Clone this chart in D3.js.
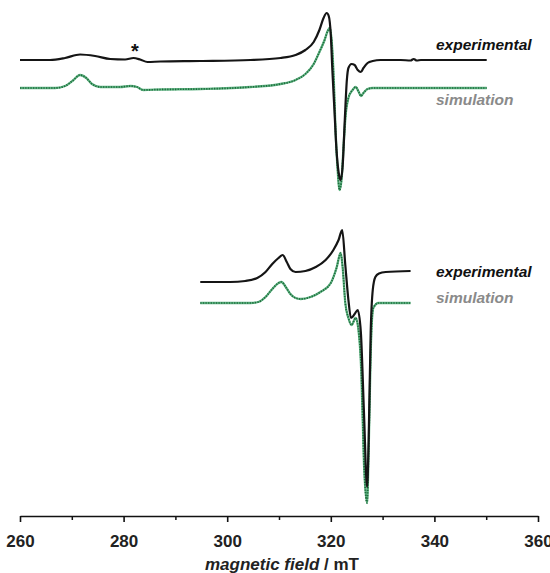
<!DOCTYPE html>
<html>
<head>
<meta charset="utf-8">
<script src="https://cdn.jsdelivr.net/npm/d3@7"></script>
<style>
  html, body { margin: 0; padding: 0; background: #fff; }
  svg { display: block; font-family: "Liberation Sans", Arial, sans-serif; }
</style>
</head>
<body>
<svg id="chart"></svg>
<script>
// field axis ticks (mT)
const majorTicks = [260, 280, 300, 320, 340, 360]
const minorTicks = [270, 290, 310, 330, 350]

// upper spectrum, experimental
const upExpField = [260, 265.8, 268.7, 271.6, 274.5, 277.4, 280.3, 281.9, 283.2, 284.6, 287.1, 294.8, 304.5, 310.3, 313.2, 315.1, 316.7, 317.8, 318.6, 319.2, 319.6, 320.0, 320.3, 320.7, 321.1, 321.5, 321.9, 322.3, 322.7, 323.1, 323.4, 324.0, 324.6, 325.2, 325.8, 326.3, 327.1, 328.1, 329.6, 333.5, 335.4, 336.0, 336.6, 337.4, 350.1]
const upExpInt = [0, 0, 2, 5.5, 4, 1, 0.5, 2, 0.5, -2, -1.5, -1, 0, 2, 5, 10, 18, 30, 42, 47, 44, 25, -10, -50, -90, -112, -120, -105, -60, -20, -8, -4, -5, -10, -12, -8, -3, -1, 0, 0, -0.5, 1, -0.5, 0, 0]

// upper spectrum, simulation
const upSimField = [260, 266.8, 268.7, 270.1, 271.6, 272.8, 273.9, 275.5, 279.3, 281.3, 282.6, 283.8, 287.1, 294.8, 304.5, 310.3, 313.2, 315.1, 316.7, 317.8, 318.8, 319.4, 319.8, 320.2, 320.6, 320.9, 321.3, 321.7, 322.1, 322.5, 322.9, 323.4, 324.2, 324.8, 325.4, 325.8, 326.3, 327.1, 328.1, 350.1]
const upSimInt = [0, 0, 2, 7, 13, 10, 4, 1, 1, 2, 1, -2, -1.5, -1, 1, 4, 8, 14, 24, 36, 48, 57, 60, 45, 5, -40, -80, -102, -90, -55, -25, -10, -2, 1, -4, -8, -5, -1, 0, 0]

// lower spectrum, experimental
const loExpField = [294.8, 300.6, 303.5, 305.8, 307.4, 308.7, 309.9, 310.7, 311.5, 312.2, 313.2, 315.1, 317.1, 319.0, 320.5, 321.5, 322.2, 322.8, 323.4, 323.9, 324.6, 325.2, 325.8, 326.4, 327.0, 327.3, 327.7, 328.1, 328.6, 329.3, 330.6, 335.4]
const loExpInt = [0, 0, 1, 4, 10, 18, 24, 27, 20, 13, 10, 11, 15, 22, 32, 42, 52, 17, -18, -36, -32, -28, -50, -130, -205, -160, -50, -8, 5, 8.5, 10, 11]

// lower spectrum, simulation
const loSimField = [294.8, 304.5, 306.0, 307.4, 308.7, 309.9, 310.5, 311.3, 312.2, 313.2, 314.2, 316.1, 318.0, 320.0, 321.1, 321.9, 322.3, 322.8, 323.4, 324.0, 324.8, 325.3, 325.9, 326.4, 327.0, 327.3, 327.7, 328.2, 329.2, 335.4]
const loSimInt = [0, 0, 1, 6, 14, 20, 21, 16, 9, 5, 4, 6, 11, 20, 35, 50, 35, 0, -15, -22, -15, -25, -70, -160, -200, -150, -50, -5, 0, 0]

// vertical offsets of the stacked traces (a.u.)
const offsets = { upExp: 450, upSim: 422, loExp: 228, loSim: 207 }

const width = 550
const height = 573

const svg = d3.select("#chart")
  .attr("width", width)
  .attr("height", height)

const x = d3.scaleLinear().domain([260, 360]).range([20, 538])
const y = d3.scaleLinear().domain([0, 500]).range([510, 10])

const line = d3.line()
  .x(d => x(d.f))
  .y(d => y(d.v))
  .curve(d3.curveMonotoneX)

function trace(fields, ints, off) {
  return fields.map((f, i) => ({ f: f, v: ints[i] + off }))
}

function drawSim(data) {
  svg.append("path")
    .datum(data)
    .attr("fill", "none")
    .attr("stroke", "#5fb483")
    .attr("stroke-width", 2.3)
    .attr("d", line)
  svg.append("path")
    .datum(data)
    .attr("fill", "none")
    .attr("stroke", "#1f6b3c")
    .attr("stroke-width", 1.7)
    .attr("stroke-dasharray", "1.3,1.3")
    .attr("d", line)
}

function drawExp(data) {
  svg.append("path")
    .datum(data)
    .attr("fill", "none")
    .attr("stroke", "#151515")
    .attr("stroke-width", 2.2)
    .attr("stroke-linejoin", "round")
    .attr("d", line)
}

drawSim(trace(upSimField, upSimInt, offsets.upSim))
drawExp(trace(upExpField, upExpInt, offsets.upExp))
drawSim(trace(loSimField, loSimInt, offsets.loSim))
drawExp(trace(loExpField, loExpInt, offsets.loExp))

// labels
function label(txt, px, py, color) {
  svg.append("text")
    .attr("x", px)
    .attr("y", py)
    .attr("fill", color)
    .style("font-size", "15.5px")
    .style("font-weight", "bold")
    .style("font-style", "italic")
    .text(txt)
}
label("experimental", 436, 50, "#111")
label("simulation", 436, 105, "#8a8a8a")
label("experimental", 436, 277, "#111")
label("simulation", 436, 303, "#8a8a8a")

// asterisk marking the impurity line
svg.append("text")
  .attr("x", x(282.2))
  .attr("y", 58)
  .attr("text-anchor", "middle")
  .style("font-size", "20px")
  .style("font-weight", "bold")
  .attr("fill", "#111")
  .text("*")

// axis
const axisY = 516
const gMinor = svg.append("g")
  .attr("transform", `translate(0,${axisY})`)
  .call(d3.axisBottom(x).tickValues(minorTicks).tickSize(4).tickSizeOuter(0).tickFormat(""))
gMinor.select(".domain").remove()
gMinor.selectAll("line").attr("stroke", "#111").attr("stroke-width", 1.5)

const gMajor = svg.append("g")
  .attr("transform", `translate(0,${axisY})`)
  .call(d3.axisBottom(x).tickValues(majorTicks).tickSize(6).tickSizeOuter(0).tickPadding(13).tickFormat(d3.format("d")))
gMajor.select(".domain").attr("stroke", "#111").attr("stroke-width", 1.6)
gMajor.selectAll("line").attr("stroke", "#111").attr("stroke-width", 1.6)
gMajor.selectAll("text")
  .attr("fill", "#222")
  .style("font-size", "17px")
  .style("font-weight", "bold")
  .style("font-family", "'Liberation Sans', Arial, sans-serif")

const title = svg.append("text")
  .attr("x", 282)
  .attr("y", 570)
  .attr("text-anchor", "middle")
  .attr("fill", "#222")
  .style("font-size", "17px")
  .style("font-weight", "bold")
title.append("tspan").style("font-style", "italic").text("magnetic field")
title.append("tspan").text(" / mT")
</script>
</body>
</html>
